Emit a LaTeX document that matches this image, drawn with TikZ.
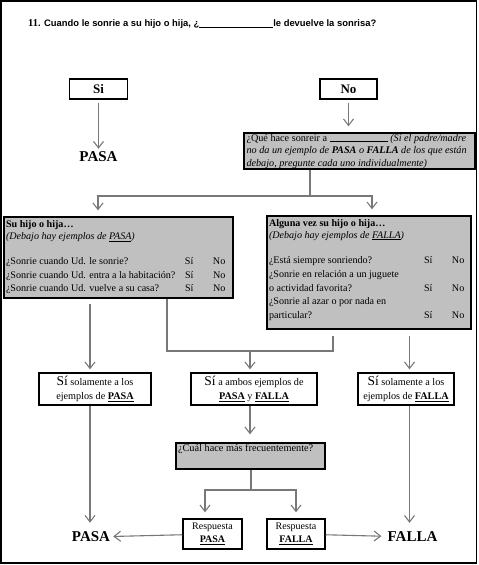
\documentclass[tikz,border=0pt]{standalone}
\usepackage{fontspec}
\setmainfont{Liberation Serif}
\newfontfamily\headfont{Liberation Sans}
\usetikzlibrary{arrows.meta}

\definecolor{boxgray}{RGB}{192,192,192}
\definecolor{linkgray}{RGB}{120,120,120}

% one question row: question text, then the Si / No columns
\newcommand\qrow[2]{\makebox[#1][l]{#2}\makebox[28pt][l]{Sí}No}

\begin{document}
\begin{tikzpicture}[x=1pt,y=-1pt,
  outline/.style={draw=black, line width=1.1pt},
  plainbox/.style={draw=black, line width=1.3pt, fill=white, inner sep=0pt, align=center},
  graybox/.style={draw=black, line width=1.3pt, fill=boxgray, inner sep=0pt},
  link/.style={draw=linkgray, line width=1.1pt},
  arr/.style={link, -{Straight Barb[length=6.5pt,width=10pt,line width=1.1pt]}},
  verdict/.style={font=\fontsize{15}{15}\selectfont\bfseries, inner sep=0pt},
  small/.style={font=\fontsize{10.2}{14}\selectfont},
]
\useasboundingbox (0,0) rectangle (479,565);
\draw[outline] (1,1) rectangle (476.5,563);

% question heading
\node[anchor=west, inner sep=0pt] (title) at (28,24)
  {\headfont\bfseries\fontsize{9.4}{10}\selectfont {\rmfamily\fontsize{10.5}{10}\selectfont 11}. Cuando le sonrie a su hijo o hija, ¿\rule[-0.8pt]{74pt}{0.7pt}le devuelve la sonrisa?};

% first answer
\node[plainbox, minimum width=58pt, minimum height=20pt, font=\fontsize{13}{13}\selectfont\bfseries] (si) at (98.5,89) {Si};
\node[plainbox, minimum width=57pt, minimum height=20pt, font=\fontsize{13}{13}\selectfont\bfseries] (no) at (348.5,89) {No};
\node[verdict] (pasaTop) at (98.5,157) {PASA};

% follow-up question
\node[graybox, minimum width=231pt, minimum height=36pt] (quehace) at (359.5,151)
  {\parbox[c][34pt][t]{226pt}{\fontsize{10.2}{12.6}\selectfont\raggedright
   ¿Qué hace sonreir a \rule[-0.8pt]{58pt}{0.6pt} \textit{(Si el padre/madre}\\
   \textit{no da un ejemplo de \textbf{PASA} o \textbf{FALLA} de los que están}\\
   \textit{debajo, pregunte cada uno individualmente)}}};

% examples of PASA
\node[graybox, minimum width=229pt, minimum height=81pt] (hijo) at (118.5,257.5)
  {\parbox[c][77pt][t]{225pt}{\vspace*{1pt}\fontsize{10.1}{12.2}\selectfont\raggedright
   \textbf{Su hijo o hija…}\\
   \textit{(Debajo hay ejemplos de \underline{PASA})}\\[13.5pt]
   \qrow{179pt}{¿Sonrie cuando Ud. le sonrie?}\\[1pt]
   \qrow{179pt}{¿Sonrie cuando Ud. entra a la habitación?}\\[1pt]
   \qrow{179pt}{¿Sonrie cuando Ud. vuelve a su casa?}}};

% examples of FALLA
\node[graybox, minimum width=204pt, minimum height=113pt] (alguna) at (369,272.5)
  {\parbox[c][109pt][t]{200pt}{\vspace*{1pt}\fontsize{10.1}{12.2}\selectfont\raggedright
   \textbf{Alguna vez su hijo o hija…}\\
   \textit{(Debajo hay ejemplos de \underline{FALLA})}\\[13pt]
   \qrow{155pt}{¿Está siempre sonriendo?}\\[1.6pt]
   ¿Sonrie en relación a un juguete\\[1.6pt]
   \qrow{155pt}{o actividad favorita?}\\[1.6pt]
   ¿Sonrie al azar o por nada en\\[1.6pt]
   \qrow{155pt}{particular?}}};

% outcomes of the examples
\node[plainbox, minimum width=112pt, minimum height=32pt, small] (soloPasa) at (95,389)
  {{\fontsize{13.5}{14}\selectfont Sí} solamente a los\\ ejemplos de \underline{\textbf{PASA}}};
\node[plainbox, minimum width=126pt, minimum height=32pt, small] (ambos) at (254,389)
  {{\fontsize{13.5}{14}\selectfont Sí} a ambos ejemplos de\\ \underline{\textbf{PASA}} y \underline{\textbf{FALLA}}};
\node[plainbox, minimum width=96pt, minimum height=32pt, small] (soloFalla) at (406,389)
  {{\fontsize{13.5}{14}\selectfont Sí} solamente a los\\ ejemplos de \underline{\textbf{FALLA}}};

% which one happens more often
\node[graybox, minimum width=149pt, minimum height=26pt] (cual) at (250.5,456)
  {\parbox[c][24pt][t]{145pt}{\vspace*{0.5pt}\fontsize{10.3}{12}\selectfont\mbox{¿Cuál hace más frecuentemente?}}};
\node[plainbox, minimum width=59pt, minimum height=30pt, font=\fontsize{10}{13}\selectfont] (respPasa) at (212.5,534)
  {Respuesta\\ \underline{\textbf{PASA}}};
\node[plainbox, minimum width=58pt, minimum height=30pt, font=\fontsize{10}{13}\selectfont] (respFalla) at (296,534)
  {Respuesta\\ \underline{\textbf{FALLA}}};

\node[verdict] (pasaBot) at (91,537) {PASA};
\node[verdict] (fallaBot) at (412.5,537) {FALLA};

% junction and drop points
\coordinate (split) at (310,196);
\coordinate (leftDrop) at (98,196);
\coordinate (rightDrop) at (372,196);
\coordinate (pasaCol) at (90,0);
\coordinate (mergeStart) at (167,0);
\coordinate (merge) at (250,351);
\coordinate (mergeEnd) at (333,0);
\coordinate (fallaCol) at (409.5,0);
\coordinate (fork) at (251,490);
\coordinate (forkL) at (205,490);
\coordinate (forkR) at (296,490);

% connectors
\draw[arr, shorten <=3pt, shorten >=3pt] (si) -- (pasaTop);
\draw[arr, shorten <=3pt, shorten >=6pt] (no) -- (quehace.north -| no);
\draw[link] (quehace.south -| split) -- (split);
\draw[arr, shorten >=6pt] (split) -- (leftDrop) -- (hijo.north -| leftDrop);
\draw[arr, shorten >=6pt] (split) -- (rightDrop) -- (alguna.north -| rightDrop);

\draw[arr, shorten <=5pt, shorten >=3pt] (hijo.south -| pasaCol) -- (soloPasa.north -| pasaCol);
\draw[link] (hijo.south -| mergeStart) |- (merge);
\draw[link, shorten >=6pt] (merge) -| (alguna.south -| mergeEnd);
\draw[arr, shorten >=3pt] (merge) -- (ambos.north -| merge);
\draw[arr, shorten <=6pt, shorten >=3pt] (alguna.south -| fallaCol) -- (soloFalla.north -| fallaCol);

\draw[arr, shorten >=9pt] (soloPasa.south -| pasaCol) -- (pasaBot.north -| pasaCol);
\draw[arr, shorten >=9pt] (soloFalla.south -| fallaCol) -- (fallaBot.north -| fallaCol);
\draw[arr, shorten >=8pt] (ambos.south -| merge) -- (cual.north -| merge);
\draw[link] (cual.south -| fork) -- (fork);
\draw[arr, shorten >=6pt] (fork) -- (forkL) -- (respPasa.north -| forkL);
\draw[arr, shorten >=6pt] (fork) -- (forkR) -- (respFalla.north -| forkR);
\draw[arr, shorten >=3pt] (respPasa) -- (pasaBot);
\draw[arr, shorten >=6pt] (respFalla) -- (fallaBot);
\end{tikzpicture}
\end{document}
